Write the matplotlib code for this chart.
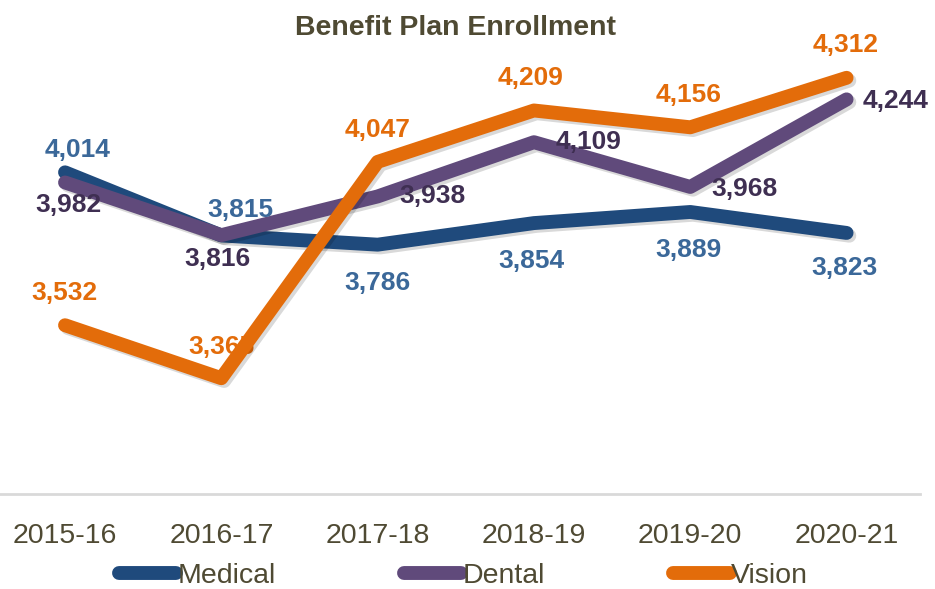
import matplotlib.pyplot as plt
from matplotlib.lines import Line2D
import matplotlib.patheffects as pe

years = ['2015-16', '2016-17', '2017-18', '2018-19', '2019-20', '2020-21']
medical = [4014, 3815, 3786, 3854, 3889, 3823]
dental = [3982, 3816, 3938, 4109, 3968, 4244]
vision = [3532, 3365, 4047, 4209, 4156, 4312]

plt.rcParams['font.family'] = ['Liberation Sans', 'DejaVu Sans']

text_col = '#4f4a33'
series = [
    ('Medical', medical, '#1f4a7c', '#3b6899',
     [(13, 22), (19, 25), (0, -38), (-3, -38), (-2, -38), (-2, -35)]),
    ('Dental', dental, '#604a7b', '#3f2f52',
     [(3, -23), (-4, -24), (55, 0), (55, 0), (54, -2), (49, -2)]),
    ('Vision', vision, '#e36c0a', '#e36c0a',
     [(-1, 32), (0, 31), (0, 32), (-3, 32), (-2, 32), (-1, 33)]),
]

fig = plt.figure(figsize=(9.35, 5.89), dpi=100)
ax = fig.add_axes([0.0, 0.1613, 0.984, 0.754])

x = list(range(len(years)))
for i, (name, vals, lc, tc, offs) in enumerate(series):
    ax.plot(x, vals, color=lc, lw=10, solid_capstyle='round', solid_joinstyle='round',
            zorder=3 + i,
            path_effects=[pe.SimpleLineShadow(offset=(2, -2), alpha=0.15), pe.Normal()])
    for j, (xi, v, (dx, dy)) in enumerate(zip(x, vals, offs)):
        # the 2016-17 vision label sits under the line in the original
        z = 2 if (name == 'Vision' and j == 1) else 10
        ax.annotate(f'{v:,}', (xi, v), xytext=(dx, dy), textcoords='offset pixels',
                    ha='center', va='center', fontsize=19, fontweight='bold',
                    color=tc, zorder=z)

ax.set_xlim(-0.416, 5.47)
ax.set_ylim(3000, 4400)
ax.set_xticks(x)
ax.set_xticklabels(years, fontsize=20.5, color=text_col)
ax.tick_params(axis='x', length=0, pad=21)
ax.set_yticks([])
for s in ['top', 'right', 'left']:
    ax.spines[s].set_visible(False)
ax.spines['bottom'].set_color('#d9d9d9')
ax.spines['bottom'].set_linewidth(2)
ax.patch.set_alpha(0)

fig.text(0.487, 0.953, 'Benefit Plan Enrollment', ha='center', va='center',
         fontsize=20.5, fontweight='bold', color=text_col)

handles = [Line2D([], [], color=lc, lw=10, solid_capstyle='round') for _, _, lc, _, _ in series]
fig.legend(handles, [s[0] for s in series], loc='center', bbox_to_anchor=(0.496, 1 - 576 / 589),
           ncol=3, frameon=False, fontsize=20.5, labelcolor=text_col,
           handlelength=2.0, handletextpad=0.05, columnspacing=4.5, borderpad=0)

fig.savefig('out.png', dpi=100)
